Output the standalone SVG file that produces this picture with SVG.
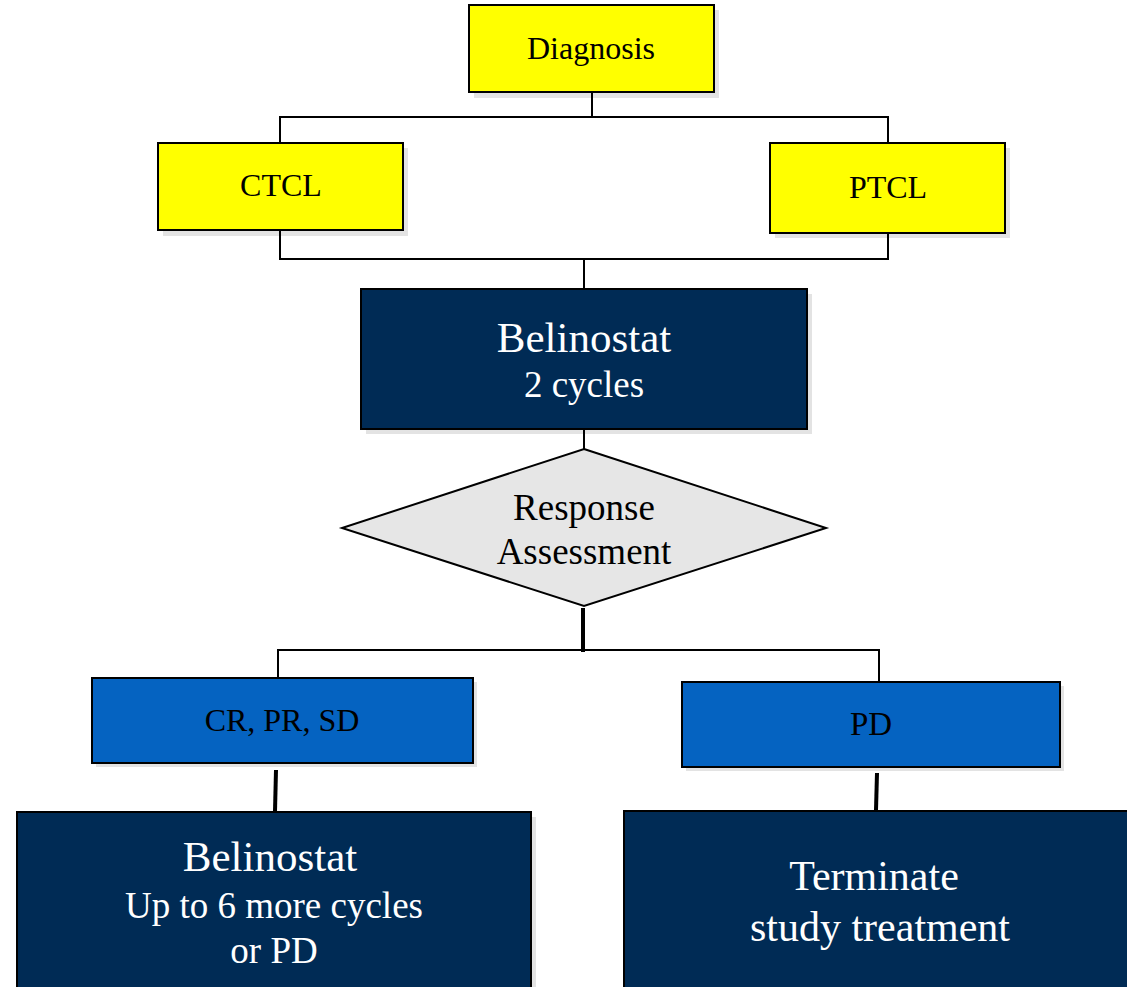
<svg xmlns="http://www.w3.org/2000/svg" width="1127" height="987" viewBox="0 0 1127 987">
<style>
.sh{fill:#e3e3e3}
.box{stroke:#000;stroke-width:2}
.y{fill:#ffff00}
.n{fill:#002b55}
.b{fill:#0563c1}
text{font-family:"Liberation Serif","Times New Roman",serif;text-anchor:middle}
.bk{fill:#000}
.w{fill:#fff}
.c{fill:none;stroke:#000;stroke-width:2}
.ct{fill:none;stroke:#000;stroke-width:4}
</style>
<rect width="1127" height="987" fill="#fff"/>
<g id="diagnosis">
<rect class="sh" x="474" y="10" width="245" height="88"/>
<rect class="box y" x="469" y="5" width="245" height="87"/>
<text class="bk" x="591" y="59" font-size="32">Diagnosis</text>
</g>
<g id="ctcl">
<rect class="sh" x="163" y="148" width="245" height="88"/>
<rect class="box y" x="158" y="143" width="245" height="87"/>
<text class="bk" x="281" y="196" font-size="32">CTCL</text>
</g>
<g id="ptcl">
<rect class="sh" x="775" y="148" width="235" height="90"/>
<rect class="box y" x="770" y="143" width="235" height="90"/>
<text class="bk" x="888" y="198" font-size="32">PTCL</text>
</g>
<g id="belinostat1">
<rect class="sh" x="366" y="294" width="446" height="140"/>
<rect class="box n" x="361" y="289" width="446" height="140"/>
<text class="w" x="584" y="352" font-size="43">Belinostat</text>
<text class="w" x="584" y="397" font-size="37">2 cycles</text>
</g>
<g id="response">
<polygon points="584,449 826,528 584,606 342,528" fill="#e6e6e6" stroke="#000" stroke-width="2"/>
<text class="bk" x="584" y="520" font-size="37">Response</text>
<text class="bk" x="584" y="564" font-size="37">Assessment</text>
</g>
<g id="crprsd">
<rect class="sh" x="96" y="682" width="381" height="85"/>
<rect class="box b" x="92" y="678" width="381" height="85"/>
<text class="bk" x="282" y="731" font-size="32">CR, PR, SD</text>
</g>
<g id="pd">
<rect class="sh" x="686" y="686" width="378" height="85"/>
<rect class="box b" x="682" y="682" width="378" height="85"/>
<text class="bk" x="871" y="735" font-size="33">PD</text>
</g>
<g id="belinostat2">
<rect class="sh" x="22" y="817" width="514" height="180"/>
<rect class="box n" x="17" y="812" width="514" height="180"/>
<text class="w" x="270" y="871" font-size="43">Belinostat</text>
<text class="w" x="274" y="918" font-size="37">Up to 6 more cycles</text>
<text class="w" x="274" y="963" font-size="37">or PD</text>
</g>
<g id="terminate">
<rect class="box n" x="624" y="811" width="510" height="185"/>
<text class="w" x="874" y="890" font-size="42">Terminate</text>
<text class="w" x="880" y="941" font-size="42">study treatment</text>
</g>
<g id="connectors">
<polyline class="c" points="592,93 592,117"/>
<polyline class="c" points="280,142 280,117 888,117 888,142"/>
<polyline class="c" points="280,231 280,259 888,259 888,234"/>
<polyline class="c" points="584,259 584,288"/>
<polyline class="c" points="584,430 584,449"/>
<polyline class="ct" points="583,608 583,652"/>
<polyline class="c" points="278,677 278,650 879,650 879,681"/>
<polyline class="ct" points="276,770 275,811"/>
<polyline class="ct" points="877,773 876,810"/>
</g>
</svg>
